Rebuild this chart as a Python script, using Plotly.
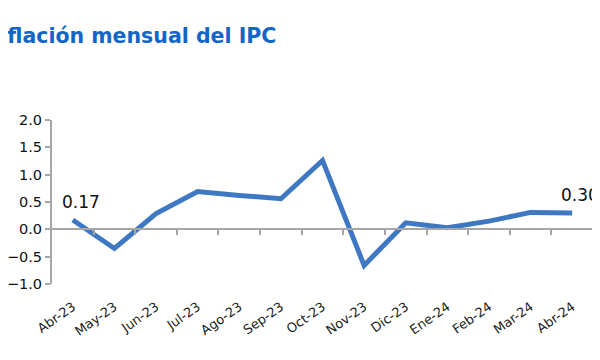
import plotly.graph_objects as go

meses = ["Abr-23", "May-23", "Jun-23", "Jul-23", "Ago-23", "Sep-23", "Oct-23",
         "Nov-23", "Dic-23", "Ene-24", "Feb-24", "Mar-24", "Abr-24"]
inflacion = [0.17, -0.35, 0.29, 0.69, 0.62, 0.56, 1.26, -0.66, 0.12, 0.03, 0.15, 0.31, 0.30]
titulo = "Inflación mensual del IPC"
etiquetas_idx = [0, 12]

n = len(meses)
ymin, ymax = -1.0, 2.0

# page body has an 8px margin: figure coordinates = screen - 8
W, H = 592, 352
L, T, B, R = 44, 112, 76, 7
pw, ph = W - L - R, H - T - B

fig = go.Figure()
fig.add_trace(go.Scatter(
    x=meses, y=inflacion, mode="lines",
    line=dict(color="#3F78C2", width=5), hoverinfo="skip", showlegend=False,
))
# dummy trace for zero-line axis
fig.add_trace(go.Scatter(
    x=[-0.5, n - 0.5], y=[0, 0], mode="lines", line=dict(width=0),
    xaxis="x2", showlegend=False, hoverinfo="skip", opacity=0,
))

for i in etiquetas_idx:
    fig.add_annotation(
        x=meses[i], y=inflacion[i], text=f"{inflacion[i]:.2f}",
        showarrow=False, xanchor="center", yanchor="middle",
        xshift=8, yshift=18,
        font=dict(family="DejaVu Sans", size=17, color="#111111"),
    )

fig.add_annotation(
    x=(-25 - L) / pw, y=1 + (T - (36 - 8)) / ph, xref="paper", yref="paper",
    text=f"<b>{titulo}</b>",
    showarrow=False, xanchor="left", yanchor="middle",
    font=dict(family="DejaVu Sans", size=20.5, color="#1166C8"),
)

gray = "#A6A6A6"
fig.update_layout(
    width=W, height=H, autosize=False,
    margin=dict(l=L, r=R, t=T, b=B, autoexpand=False),
    plot_bgcolor="white", paper_bgcolor="white",
    xaxis=dict(
        type="category", range=[-0.5, n - 0.5], showline=False, showgrid=False,
        zeroline=False, ticks="", tickangle=-35, automargin=False,
        ticklabelstandoff=12,
        tickfont=dict(family="DejaVu Sans", size=13, color="#222222"),
    ),
    xaxis2=dict(
        overlaying="x", anchor="free", position=(0 - ymin) / (ymax - ymin),
        range=[-0.5, n - 0.5], showline=True, linecolor=gray, linewidth=2,
        ticks="outside", ticklen=5, tickwidth=2, tickcolor=gray,
        tickvals=[i + 0.5 for i in range(n)], showticklabels=False,
        showgrid=False, zeroline=False, automargin=False,
    ),
    yaxis=dict(
        range=[ymin, ymax], dtick=0.5, tickformat=".1f", showgrid=False,
        zeroline=False, showline=True, linecolor=gray, linewidth=2,
        ticks="outside", ticklen=5, tickwidth=2, tickcolor=gray, automargin=False,
        tickfont=dict(family="DejaVu Sans", size=14.5, color="#111111"),
    ),
)

fig.write_html("out.html")
